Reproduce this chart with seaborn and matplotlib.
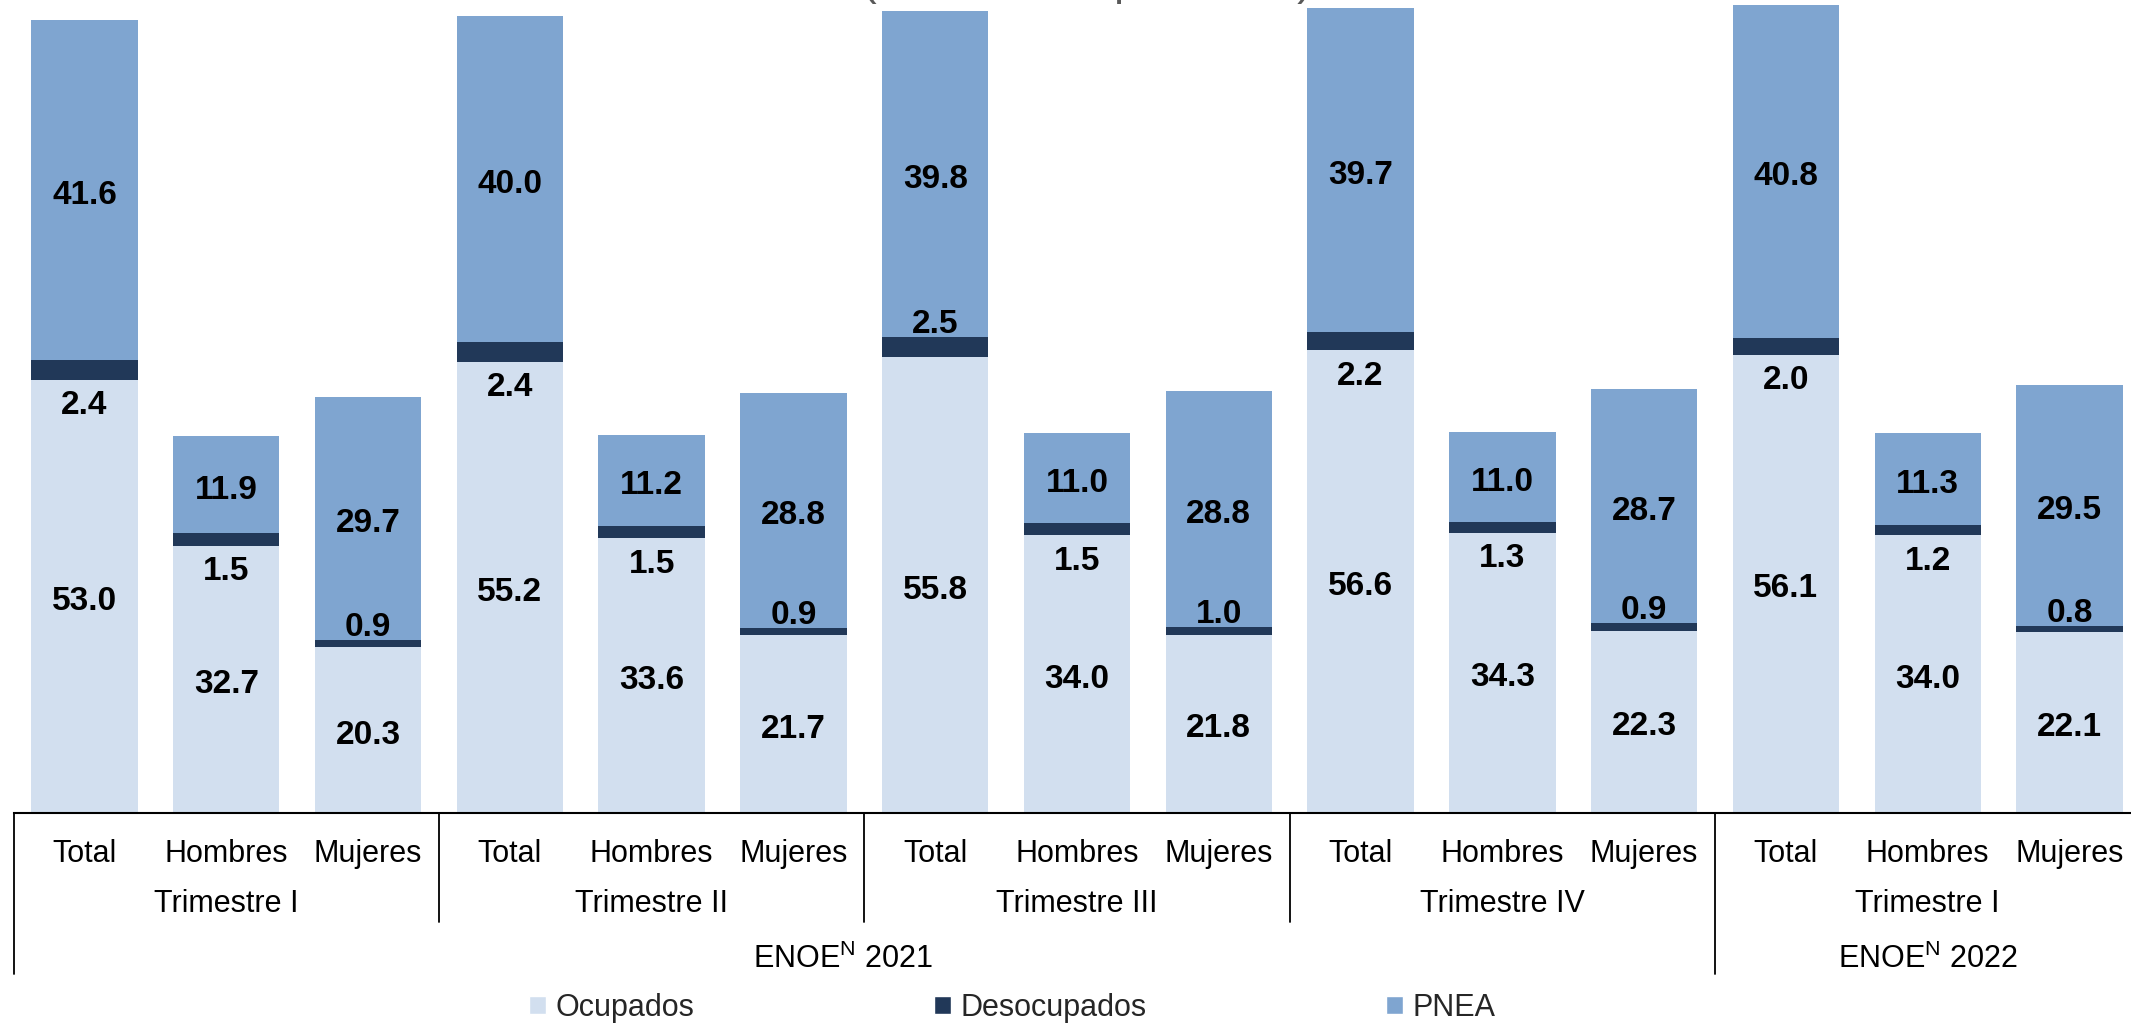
import matplotlib.pyplot as plt
import seaborn as sns
import pandas as pd
from matplotlib.patches import Patch

# Data
sexos = ["Total", "Hombres", "Mujeres"]
trimestres = ["Trimestre I", "Trimestre II", "Trimestre III", "Trimestre IV", "Trimestre I"]
anios = ["ENOE$^{\\mathrm{N}}$ 2021", "ENOE$^{\\mathrm{N}}$ 2022"]
trimestres_por_anio = [4, 1]

ocupados = [53.0, 32.7, 20.3, 55.2, 33.6, 21.7, 55.8, 34.0, 21.8,
            56.6, 34.3, 22.3, 56.1, 34.0, 22.1]
desocupados = [2.4, 1.5, 0.9, 2.4, 1.5, 0.9, 2.5, 1.5, 1.0,
               2.2, 1.3, 0.9, 2.0, 1.2, 0.8]
pnea = [41.6, 11.9, 29.7, 40.0, 11.2, 28.8, 39.8, 11.0, 28.8,
        39.7, 11.0, 28.7, 40.8, 11.3, 29.5]
# where the Desocupados label sits relative to its thin band
pos_desoc = ["below", "below", "above", "below", "below", "above", "above", "below", "above",
             "below", "below", "above", "below", "below", "above"]

C_OCUP = "#D2DFEF"
C_DESOC = "#213858"
C_PNEA = "#7FA5D0"

sns.set_theme(style="white")
plt.rcParams['font.family'] = ['Liberation Sans', 'DejaVu Sans']
plt.rcParams['mathtext.fontset'] = 'custom'
plt.rcParams['mathtext.rm'] = 'Liberation Sans'

slots = [f"{t} {s} {k}" for k, t in enumerate(trimestres) for s in sexos]
df = pd.DataFrame({
    "slot": slots,
    "ocup": ocupados,
    "desoc": desocupados,
    "pnea": pnea,
})
df["c_desoc"] = df["ocup"] + df["desoc"]
df["c_total"] = df["c_desoc"] + df["pnea"]

fig = plt.figure(figsize=(21.31, 10.24), dpi=100)
ax = fig.add_axes([0.0064, 0.2063, 0.998, 0.7937])

# stacked by overlaying cumulative bars
for col, color in [("c_total", C_PNEA), ("c_desoc", C_DESOC), ("ocup", C_OCUP)]:
    sns.barplot(data=df, x="slot", y=col, order=slots, color=color, saturation=1,
                width=0.75, linewidth=0, ax=ax)

ax.set_xlim(-0.5, 14.5)
ax.set_ylim(0, 99.5)
ax.set_xticks([])
ax.set_yticks([])
ax.set_xlabel("")
ax.set_ylabel("")
for side in ["top", "left", "right"]:
    ax.spines[side].set_visible(False)
ax.spines["bottom"].set_color("black")
ax.spines["bottom"].set_linewidth(1.5)

# value labels (small downward nudge so the digits sit visually centred)
nudge = -3.8
lab = dict(ha="center", va="center", fontsize=24, fontweight="bold", color="black",
           textcoords="offset points")
for i, row in df.iterrows():
    ax.annotate(f"{row['ocup']:.1f}", (i, row["ocup"] / 2), xytext=(0, nudge), **lab)
    ax.annotate(f"{row['pnea']:.1f}", (i, row["c_desoc"] + row["pnea"] / 2),
                xytext=(0, nudge), **lab)
    if pos_desoc[i] == "below":
        ax.annotate(f"{row['desoc']:.1f}", (i, row["ocup"]), xytext=(0, -15 + nudge), **lab)
    else:
        ax.annotate(f"{row['desoc']:.1f}", (i, row["c_desoc"]), xytext=(0, 12.7 + nudge), **lab)

# multi-level category axis
xt = ax.get_xaxis_transform()
txt = dict(ha="center", va="center", fontsize=22, color="black",
           textcoords="offset points", xycoords=xt, annotation_clip=False)
for i, s in enumerate(sexos * len(trimestres)):
    ax.annotate(s, (i, 0), xytext=(0, -29.4), **txt)
for k, t in enumerate(trimestres):
    ax.annotate(t, (3 * k + 1, 0), xytext=(0, -65.6), **txt)

start = 0
for a, n in zip(anios, trimestres_por_anio):
    end = start + 3 * n
    xc = (start + end - 1) / 2
    if n > 1:
        xc -= 0.15
    ax.annotate(a, (xc, 0), xytext=(0, -105.5), **txt)
    ax.plot([start - 0.5, start - 0.5], [0, -0.199], transform=xt, color="black",
            lw=1.3, clip_on=False)
    for k in range(1, n):
        xs = start + 3 * k - 0.5
        ax.plot([xs, xs], [0, -0.134], transform=xt, color="black", lw=1.3, clip_on=False)
    start = end

# legend
handles = [Patch(facecolor=C_OCUP, label="Ocupados"),
           Patch(facecolor=C_DESOC, label="Desocupados"),
           Patch(facecolor=C_PNEA, label="PNEA")]
fig.legend(handles=handles, loc="center", bbox_to_anchor=(0.475, 0.016), ncol=3,
           frameon=False, fontsize=22, handlelength=0.55, handleheight=0.55,
           handletextpad=0.3, columnspacing=7.85, borderpad=0)

# title, mostly cut off at the top edge as in the source
fig.text(0.51, 1 + 4.5 / 1024, "(Millones de personas)", ha="center", va="baseline",
         fontsize=32, color="#595959")

fig.savefig("out.png", dpi=100)
